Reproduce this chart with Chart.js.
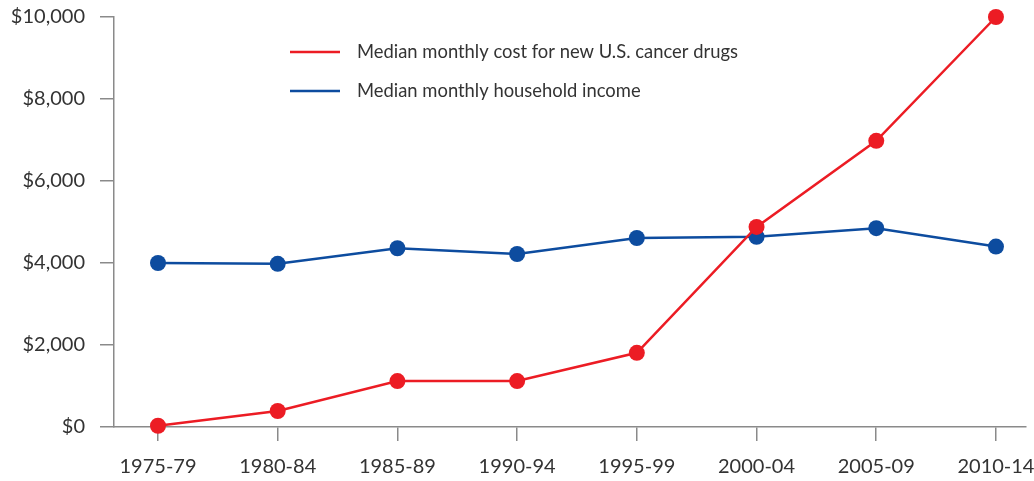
<!DOCTYPE html>
<html>
<head>
<meta charset="utf-8">
<script src="https://cdn.jsdelivr.net/npm/chart.js@4.4.0/dist/chart.umd.min.js"></script>
<style>
    html, body { margin: 0; padding: 0; background: #fff; }
    .chart-box { width: 1034px; height: 481px; position: relative; }
</style>
</head>
<body>
<div class="chart-box"><canvas id="costChart"></canvas></div>
<script>
const periods = ["1975-79", "1980-84", "1985-89", "1990-94", "1995-99", "2000-04", "2005-09", "2010-14"];
const drugCost = [30, 390, 1120, 1120, 1810, 4880, 6980, 10000];
const householdIncome = [4000, 3980, 4360, 4220, 4610, 4640, 4850, 4400];
const yTicks = [0, 2000, 4000, 6000, 8000, 10000];

const seriesNames = ["Median monthly cost for new U.S. cancer drugs", "Median monthly household income"];
const RED = "#ec1c24";
const BLUE = "#0d4c9f";
const AXIS = "#8a8a8a";
const TEXT = "#333333";
const FONT = "Lato, 'Open Sans', sans-serif";

// legend drawn inside the plot, below the top edge
const lineLegend = {
    id: "lineLegend",
    afterDraw(chart) {
        const ctx = chart.ctx;
        const colors = [RED, BLUE];
        ctx.save();
        ctx.font = "18.4px " + FONT;
        ctx.textBaseline = "middle";
        seriesNames.forEach((name, i) => {
            const y = 52 + i * 39;
            ctx.strokeStyle = colors[i];
            ctx.lineWidth = 2.5;
            ctx.beginPath();
            ctx.moveTo(290, y);
            ctx.lineTo(340, y);
            ctx.stroke();
            ctx.fillStyle = TEXT;
            ctx.fillText(name, 357, y);
        });
        ctx.restore();
    }
};

function toPoints(values) {
    return values.map((v, i) => ({ x: i, y: v }));
}

// keep the tick labels from pushing the plot area inwards
function noLabelPadding(scale) {
    scale.paddingLeft = 0;
    scale.paddingRight = 0;
    scale.paddingTop = 0;
    scale.paddingBottom = 0;
}

new Chart(document.getElementById("costChart"), {
    type: "line",
    data: {
        datasets: [
            {
                label: seriesNames[0],
                data: toPoints(drugCost),
                borderColor: RED,
                backgroundColor: RED,
                borderWidth: 2.5,
                pointRadius: 8,
                pointBorderWidth: 0,
                tension: 0,
                clip: false
            },
            {
                label: seriesNames[1],
                data: toPoints(householdIncome),
                borderColor: BLUE,
                backgroundColor: BLUE,
                borderWidth: 2.5,
                pointRadius: 8,
                pointBorderWidth: 0,
                tension: 0,
                clip: false
            }
        ]
    },
    options: {
        responsive: true,
        maintainAspectRatio: false,
        animation: false,
        events: [],
        layout: {
            padding: { top: 17, right: 0, left: 0, bottom: 0 }
        },
        plugins: {
            legend: { display: false },
            tooltip: { enabled: false }
        },
        scales: {
            x: {
                type: "linear",
                min: -0.3676,
                max: 7.251,
                afterBuildTicks: scale => {
                    scale.ticks = periods.map((p, i) => ({ value: i }));
                },
                afterFit: scale => {
                    scale.height = 54;
                    noLabelPadding(scale);
                },
                border: { color: AXIS, width: 1.5 },
                grid: {
                    drawOnChartArea: false,
                    color: AXIS,
                    lineWidth: 1.5,
                    tickLength: 14
                },
                ticks: {
                    color: TEXT,
                    font: { family: FONT, size: 20 },
                    padding: 14,
                    maxRotation: 0,
                    callback: value => periods[value]
                }
            },
            y: {
                min: 0,
                max: 10000,
                afterBuildTicks: scale => {
                    scale.ticks = yTicks.map(v => ({ value: v }));
                },
                afterFit: scale => {
                    scale.width = 114;
                    noLabelPadding(scale);
                },
                border: { color: AXIS, width: 1.5 },
                grid: {
                    drawOnChartArea: false,
                    color: AXIS,
                    lineWidth: 1.5,
                    tickLength: 14
                },
                ticks: {
                    color: TEXT,
                    font: { family: FONT, size: 20 },
                    padding: 15,
                    callback: value => "$" + value.toLocaleString("en-US")
                }
            }
        }
    },
    plugins: [lineLegend]
});
</script>
</body>
</html>
